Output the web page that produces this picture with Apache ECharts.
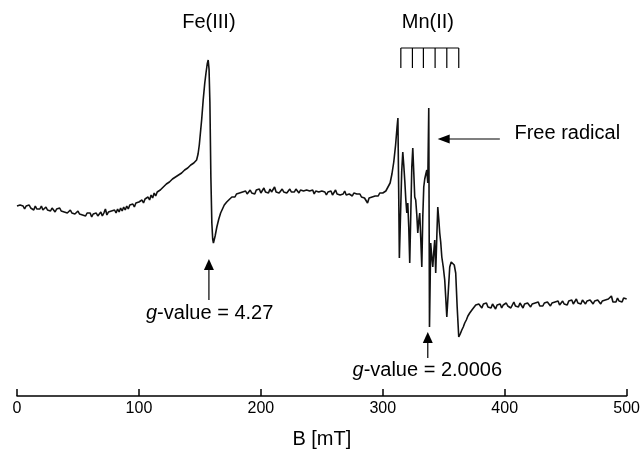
<!DOCTYPE html>
<html>
<head>
<meta charset="utf-8">
<script src="https://cdn.jsdelivr.net/npm/echarts@6/dist/echarts.min.js"></script>
<style>
html,body{margin:0;padding:0;background:#fff;}
#chart{width:643px;height:454px;}
</style>
</head>
<body>
<div id="chart"></div>
<script>
// ---- Data: EPR spectrum, magnetic field B (mT) vs. signal (arbitrary units) ----
// Low-field baseline
const bLow = [0,1.25,2.5,3.75,5,6.25,7.5,8.75,10,11.25,12.5,13.75,15,16.25,17.5,18.75,20,21.25,22.5,23.75,25,26.25,27.5,28.75,30,31.25,32.5,33.75,35,36.25,37.5,38.75,40,41.25,42.5,43.75,45,46.25,47.5,48.75,50,51.25,52.5,53.75,55,56.25,57.5,58.75,60,61.25,62.5,63.75,65,66.25,67.5,68.75,70,71.25,72.5,73.75,75,76.25,77.5,78.75,80,81.25,82.5,83.75,85,86.25,87.5,88.75,90,91.25,92.5,93.75,95,96.25,97.5,98.75,100,101.25,102.5,103.75,105,106.25,107.5,108.75,110,111.25,112.5,113.75,115,116.25,117.5,118.75,120,121.25,122.5,123.75,125,126.25,127.5,128.75,130,131.25,132.5,133.75,135,136.25,137.5,138.75,140,141.25,142.5,143.75,145,146.25];
const sLow = [1,-1,2,0,1,-2,1,-1,2,-1,0,-3,1,-2,0,-2,1,-3,-1,0,-3,-1,-4,-1,-2,-5,-2,-3,-1,-4,-2,-5,-3,-6,-4,-3,-6,-4,-7,-5,-4,-7,-5,-8,-6,-9,-6,-8,-6,-10,-7,-9,-6,-9,-8,-5,-9,-6,-2,-8,-5,-7,-4,-6,-3,-6,-2,-5,-1,-4,0,-3,1,-2,2,0,3,0,4,2,5,3,7,4,8,6,10,7,12,9,14,11,15,13,17,15,20,18,23,21,25,23,28,26,30,28,32,31,34,33,37,35,39,38,42,41,44,46];
// Fe(III) line, g = 4.27
const bFe = [147.3,148.5,149.5,150.5,151.5,152.7,154,155,156,156.8,157.5,158.2,159,159.8,160.5,161.1,161.7,162.5,163.9,165.5,167,168.5,170,172,174.5];
const sFe = [47,53,62,75,88,107,124,134,143,147,138,105,30,-16,-32,-36,-35,-29,-20,-12,-6,-2,2,5,8];
// Mid-field baseline
const bMid = [176.25,177.5,178.75,180,181.25,182.5,183.75,185,186.25,187.5,188.75,190,191.25,192.5,193.75,195,196.25,197.5,198.75,200,201.25,202.5,203.75,205,206.25,207.5,208.75,210,211.25,212.5,213.75,215,216.25,217.5,218.75,220,221.25,222.5,223.75,225,226.25,227.5,228.75,230,231.25,232.5,233.75,235,236.25,237.5,238.75,240,241.25,242.5,243.75,245,246.25,247.5,248.75,250,251.25,252.5,253.75,255,256.25,257.5,258.75,260,261.25,262.5,263.75,265,266.25,267.5,268.75,270,271.25,272.5,273.75,275,276.25,277.5,278.75,280,281.25,282.5,283.75,285,286.25,287.5,288.75,290,291.25,292.5,293.75,295,296.25,297.5,298.75,300,301.25,302.5];
const sMid = [10,12,10,13,11,14,12,15,13,16,13,15,17,14,16,13,17,15,18,14,16,19,15,17,14,18,15,16,20,15,17,14,16,18,15,17,14,16,18,15,17,15,18,16,14,17,15,16,14,17,15,16,14,17,13,16,14,15,13,16,14,15,12,15,13,16,12,14,17,13,15,12,14,13,16,12,14,13,15,11,14,12,13,11,13,10,12,9,11,4,9,11,10,12,11,13,11,14,12,14,13,16];
// Mn(II) sextet + free radical (g = 2.0006)
const bMn = [304,306,307.5,309,310.5,311.7,312.4,313.0,313.6,314.5,315.5,316.4,317.2,318.1,318.9,319.7,320.5,321.3,322.1,323,323.8,324.6,325.4,326.2,327,327.9,328.7,329.5,330.3,331.1,332,332.8,333.6,334.4,335.3,336.1,336.9,337.7,338.3,339.3,340.2,341,341.8,342.6,343.4,344.3,345.1,345.9,346.7,347.5,348.4,349.6,350.8,351.6,352.5,353.7,354.9,356.1,357.4,358.6,359.8,361,362.3,363.5,364.8,366,367.2,368.5,369.8,371.3,372.5,373.7];
const sMn = [18,24,33,45,62,80,89,20,-51,-10,35,55,42,25,7,-6,4,-20,-56,-5,40,59,35,10,7,-8,-26,-14,-6,-30,-60,-10,20,28,33,37,24,99,-120,-36,-50,-60,-45,-33,-66,-30,0,-12,-26,-35,-50,-60,-73,-90,-110,-85,-60,-55,-55,-58,-66,-100,-130,-127,-123,-120,-116,-113,-109,-106,-104,-102];
// High-field baseline
const bHigh = [375,376.25,377.5,378.75,380,381.25,382.5,383.75,385,386.25,387.5,388.75,390,391.25,392.5,393.75,395,396.25,397.5,398.75,400,401.25,402.5,403.75,405,406.25,407.5,408.75,410,411.25,412.5,413.75,415,416.25,417.5,418.75,420,421.25,422.5,423.75,425,426.25,427.5,428.75,430,431.25,432.5,433.75,435,436.25,437.5,438.75,440,441.25,442.5,443.75,445,446.25,447.5,448.75,450,451.25,452.5,453.75,455,456.25,457.5,458.75,460,461.25,462.5,463.75,465,466.25,467.5,468.75,470,471.25,472.5,473.75,475,476.25,477.5,478.75,480,481.25,482.5,483.75,485,486.25,487.5,488.75,490,491.25,492.5,493.75,495,496.25,497.5,498.75,500];
const sHigh = [-101,-98,-100,-97,-99,-101,-97,-99,-96,-100,-98,-101,-97,-99,-102,-98,-100,-97,-101,-98,-100,-96,-99,-97,-101,-98,-95,-99,-97,-100,-96,-98,-101,-97,-99,-96,-98,-100,-97,-99,-96,-98,-95,-99,-97,-99,-96,-98,-95,-97,-99,-96,-98,-95,-97,-94,-98,-96,-94,-97,-95,-98,-94,-96,-93,-97,-95,-92,-96,-94,-97,-93,-95,-97,-94,-96,-93,-95,-97,-94,-96,-93,-95,-97,-94,-96,-93,-95,-92,-94,-89,-95,-93,-95,-91,-94,-92,-95,-91,-93,-92];

const xTicks = [0,100,200,300,400,500];
// Mn(II) hyperfine stick positions (mT)
const mnSticks = [314.8,324.3,333.3,342.9,352.5,362.3];

const bAll = [].concat(bLow,bFe,bMid,bMn,bHigh);
const sAll = [].concat(sLow,sFe,sMid,sMn,sHigh);
const seriesData = bAll.map((b,i)=>[b,sAll[i]]);

const FONT = 'Liberation Sans, Arial, sans-serif';
const chart = echarts.init(document.getElementById('chart'), null, {renderer:'canvas'});
chart.setOption({
  animation:false,
  backgroundColor:'#fff',
  grid:{left:17,right:16,top:40,bottom:58,containLabel:false},
  xAxis:{
    type:'value',min:xTicks[0],max:xTicks[xTicks.length-1],interval:100,
    axisLine:{show:true,onZero:false,lineStyle:{color:'#000',width:1.5}},
    axisTick:{show:true,inside:true,length:7,lineStyle:{color:'#000',width:1.5}},
    axisLabel:{color:'#000',fontSize:16,fontFamily:FONT,margin:5},
    splitLine:{show:false},
    name:'B [mT]',nameLocation:'middle',nameGap:33,
    nameTextStyle:{color:'#000',fontSize:20,fontFamily:FONT}
  },
  yAxis:{type:'value',min:-189,max:167,show:false,splitLine:{show:false}},
  series:[{
    type:'line',data:seriesData,showSymbol:false,symbol:'none',
    lineStyle:{color:'#111',width:1.6},
    silent:true
  }]
});

function P(b,v){return chart.convertToPixel({gridIndex:0},[b,v]);}
const rich = {
  i:{fontStyle:'italic',fontSize:20,fontFamily:FONT,fill:'#000'},
  n:{fontSize:20,fontFamily:FONT,fill:'#000'}
};
function txt(b,v,text,align){
  const p=P(b,v);
  return {type:'text',x:p[0],y:p[1],silent:true,
    style:{text:text,fill:'#000',fontSize:20,fontFamily:FONT,textAlign:align||'center',textVerticalAlign:'middle',rich:rich}};
}
function line(p1,p2){
  return {type:'line',silent:true,shape:{x1:p1[0],y1:p1[1],x2:p2[0],y2:p2[1]},style:{stroke:'#000',lineWidth:1.2}};
}
function arrowUp(b,vTip,vTail){
  const t=P(b,vTip), e=P(b,vTail);
  return [line([t[0],t[1]+8],e),
    {type:'polygon',silent:true,shape:{points:[[t[0],t[1]],[t[0]-5,t[1]+11],[t[0]+5,t[1]+11]]},style:{fill:'#000'}}];
}
function arrowLeft(bTip,bTail,v){
  const t=P(bTip,v), e=P(bTail,v);
  return [line([t[0]+8,t[1]],e),
    {type:'polygon',silent:true,shape:{points:[[t[0],t[1]],[t[0]+12,t[1]-4.5],[t[0]+12,t[1]+4.5]]},style:{fill:'#000'}}];
}
const g=[];
g.push(txt(157.4,185,'{n|Fe(III)}'));
g.push(...arrowUp(157.4,-52,-93));
g.push(txt(158,-106,'{i|g}{n|-value = 4.27}'));
g.push(txt(337,185,'{n|Mn(II)}'));
const cTop=P(mnSticks[0],159), cTop2=P(mnSticks[mnSticks.length-1],159);
g.push(line(cTop,cTop2));
mnSticks.forEach(b=>{g.push(line(P(b,159),P(b,139)));});
g.push(...arrowLeft(345,396,68));
g.push(txt(408,74,'{n|Free radical}','left'));
g.push(...arrowUp(336.9,-125,-151));
g.push(txt(336.5,-163,'{i|g}{n|-value = 2.0006}'));
chart.setOption({graphic:{elements:g}});
</script>
</body>
</html>
